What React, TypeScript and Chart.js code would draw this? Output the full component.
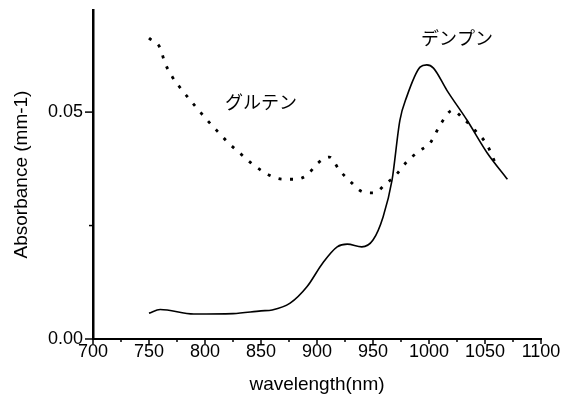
import React, { useEffect, useRef } from 'react';
import { Chart, registerables } from 'chart.js';

Chart.register(...registerables);

// グルテン (dotted)
const glutenWavelengths = [750, 760, 764, 771, 781, 792, 801, 811, 821, 831, 841, 851, 861, 870, 881, 891, 901, 911, 920, 931, 941, 951, 961, 971, 980, 991, 1001, 1011, 1021, 1030, 1041, 1052, 1060];
const glutenAbsorbance = [0.0663, 0.0641, 0.061, 0.0577, 0.0544, 0.0511, 0.0485, 0.0458, 0.0432, 0.041, 0.0388, 0.037, 0.0357, 0.0352, 0.0352, 0.0361, 0.0388, 0.0401, 0.0372, 0.0344, 0.0324, 0.0322, 0.0341, 0.0363, 0.039, 0.0414, 0.0432, 0.0476, 0.0504, 0.0487, 0.046, 0.0427, 0.0383];

// デンプン (solid)
const starchWavelengths = [750, 760, 790, 825, 850, 860, 876, 891, 905, 918, 927, 940, 950, 959, 967, 974, 980, 992, 998, 1004, 1016, 1034, 1052, 1070];
const starchAbsorbance = [0.0057, 0.0065, 0.0055, 0.0056, 0.0062, 0.0064, 0.0079, 0.0115, 0.0167, 0.0203, 0.0209, 0.0203, 0.0218, 0.0269, 0.035, 0.0482, 0.0533, 0.0599, 0.0604, 0.0597, 0.0548, 0.0482, 0.041, 0.0352];

const xMajorTicks = [700, 750, 800, 850, 900, 950, 1000, 1050, 1100];
const xMinorTicks = [725, 775, 825, 875, 925, 975, 1025, 1075];
const yMajorTicks = [0, 0.05];
const yMinorTicks = [0.025];

const labelTexts = ['グルテン', 'デンプン'];
const labelWavelengths = [850, 1025];
const labelAbsorbance = [0.0522, 0.0663];

const FONT = '"Liberation Sans", Arial, Helvetica, sans-serif';

const tickPlugin = {
  id: 'customTicks',
  afterDraw(chart: any) {
    const { ctx, scales } = chart;
    const x = scales.x;
    const y = scales.y;
    ctx.save();
    ctx.strokeStyle = '#000';
    ctx.lineWidth = 1.5;
    const line = (x1: number, y1: number, x2: number, y2: number) => {
      ctx.beginPath();
      ctx.moveTo(x1, y1);
      ctx.lineTo(x2, y2);
      ctx.stroke();
    };
    const xb = x.top;
    xMajorTicks.forEach((v) => {
      const px = x.getPixelForValue(v);
      line(px, xb, px, xb + 5);
    });
    xMinorTicks.forEach((v) => {
      const px = x.getPixelForValue(v);
      line(px, xb, px, xb + 3);
    });
    const yr = y.right;
    yMajorTicks.forEach((v) => {
      const py = y.getPixelForValue(v);
      line(yr - 8, py, yr, py);
    });
    yMinorTicks.forEach((v) => {
      const py = y.getPixelForValue(v);
      line(yr - 4, py, yr, py);
    });
    ctx.fillStyle = '#000';
    ctx.font = '18px "Noto Sans CJK JP", sans-serif';
    ctx.textAlign = 'center';
    ctx.textBaseline = 'middle';
    labelTexts.forEach((t, i) => {
      ctx.fillText(t, x.getPixelForValue(labelWavelengths[i]), y.getPixelForValue(labelAbsorbance[i]));
    });
    ctx.restore();
  },
};

export default function App() {
  const ref = useRef<HTMLCanvasElement>(null);

  useEffect(() => {
    document.body.style.margin = '0';
    const canvas = ref.current;
    if (!canvas) return;
    const chart = new Chart(canvas, {
      type: 'line',
      data: {
        datasets: [
          {
            label: 'グルテン',
            data: glutenWavelengths.map((w, i) => ({ x: w, y: glutenAbsorbance[i] })),
            borderColor: '#000',
            borderWidth: 2.8,
            borderDash: [3, 8.5],
            pointRadius: 0,
            cubicInterpolationMode: 'monotone',
            fill: false,
          },
          {
            label: 'デンプン',
            data: starchWavelengths.map((w, i) => ({ x: w, y: starchAbsorbance[i] })),
            borderColor: '#000',
            borderWidth: 1.6,
            pointRadius: 0,
            cubicInterpolationMode: 'monotone',
            fill: false,
          },
        ],
      },
      options: {
        responsive: false,
        animation: false,
        layout: { padding: { top: 10, right: 22, left: 0, bottom: 0 } },
        plugins: {
          legend: { display: false },
          tooltip: { enabled: false },
        },
        scales: {
          x: {
            type: 'linear',
            min: 700,
            max: 1100,
            afterFit: (s: any) => {
              s.height = 64;
              s.paddingLeft = 0;
              s.paddingRight = 0;
            },
            afterBuildTicks: (s: any) => {
              s.ticks = xMajorTicks.map((v) => ({ value: v }));
            },
            ticks: {
              color: '#000',
              font: { family: FONT, size: 18 },
              padding: 2,
              maxRotation: 0,
              autoSkip: false,
              callback: (v: any) => String(v),
            },
            grid: { display: true, drawOnChartArea: false, drawTicks: false },
            border: { display: true, color: '#000', width: 2 },
            title: {
              display: true,
              text: 'wavelength(nm)',
              color: '#000',
              font: { family: FONT, size: 19 },
              padding: { top: 0, bottom: 7 },
            },
          },
          y: {
            type: 'linear',
            min: 0,
            max: 0.0725,
            afterFit: (s: any) => {
              s.width = 93;
              s.paddingTop = 0;
              s.paddingBottom = 0;
            },
            afterBuildTicks: (s: any) => {
              s.ticks = yMajorTicks.map((v) => ({ value: v }));
            },
            ticks: {
              color: '#000',
              font: { family: FONT, size: 18 },
              padding: 10,
              autoSkip: false,
              callback: (v: any) => Number(v).toFixed(2),
            },
            grid: { display: true, drawOnChartArea: false, drawTicks: false },
            border: { display: true, color: '#000', width: 2.5 },
            title: {
              display: true,
              text: 'Absorbance (mm-1)',
              color: '#000',
              font: { family: FONT, size: 19 },
              padding: { top: 10, bottom: 0 },
            },
          },
        },
      },
      plugins: [tickPlugin],
    });
    return () => chart.destroy();
  }, []);

  return (
    <div style={{ width: 563, height: 403, background: '#fff' }}>
      <canvas ref={ref} width={563} height={403} style={{ display: 'block' }} />
    </div>
  );
}
